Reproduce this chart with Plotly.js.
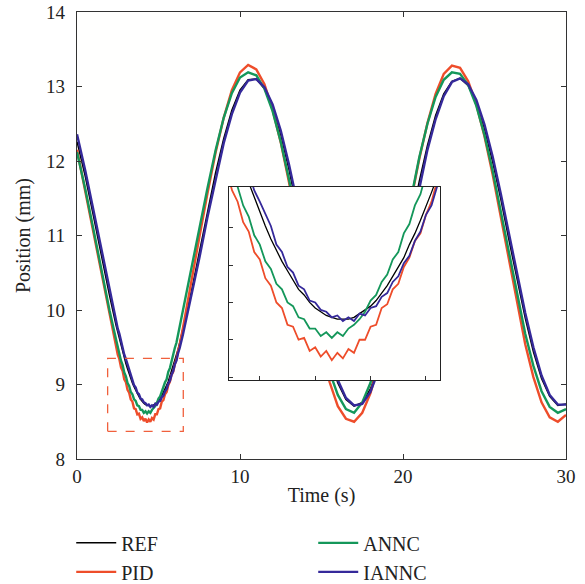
<!DOCTYPE html>
<html>
<head>
<meta charset="utf-8">
<script src="https://cdn.plot.ly/plotly-3.0.1.min.js"></script>
<style>html,body{margin:0;padding:0;background:#fff;}#chart{width:585px;height:584px;}</style>
</head>
<body>
<div id="chart"></div>
<script>
// Time (s)
var time = [0,0.5,1,1.5,2,
  2.4,2.5,2.6,2.7,2.8,2.9,3.0,3.1,3.2,3.3,3.4,3.5,3.6,3.7,3.8,3.9,4.0,4.1,4.2,4.3,
  4.4,4.5,4.6,4.7,4.8,4.9,5.0,5.1,5.2,5.3,5.4,5.5,5.6,5.7,5.8,5.9,6.0,6.1,6.2,6.3,
  6.5,7,7.5,8,8.5,9,9.5,10,10.5,11,11.5,12,12.5,13,13.5,14,14.5,15,15.5,16,16.5,17,
  17.5,18,18.5,19,19.5,20,20.5,21,21.5,22,22.5,23,23.5,24,24.5,25,25.5,26,26.5,27,
  27.5,28,28.5,29,29.5,30];

// Position (mm)
var ref = [12.26,11.80,11.27,10.72,10.19,
  9.79,9.70,9.61,9.52,9.44,9.36,9.28,9.21,9.14,9.08,9.02,8.97,8.92,8.87,8.84,8.80,8.77,8.75,8.73,8.72,
  8.71,8.71,8.71,8.72,8.74,8.76,8.78,8.81,8.85,8.89,8.94,8.99,9.04,9.11,9.17,9.24,9.31,9.39,9.47,9.56,
  9.74,10.23,10.77,11.31,11.84,12.30,12.68,12.95,13.09,13.10,12.97,12.72,12.35,11.89,11.38,10.83,10.29,9.79,9.36,9.02,8.80,8.71,
  8.76,8.94,9.24,9.64,10.13,10.66,11.21,11.73,12.21,12.61,12.90,13.07,13.11,13.01,12.78,12.43,11.99,11.49,10.94,10.40,
  9.89,9.44,9.08,8.84,8.72,8.74];

var pid = [12.15,11.60,11.03,10.46,9.92,
  9.51,9.40,9.34,9.23,9.18,9.07,9.03,8.93,8.89,8.80,8.77,8.68,8.67,8.60,8.61,8.54,8.56,8.51,8.54,8.49,
  8.53,8.50,8.55,8.53,8.60,8.60,8.67,8.68,8.77,8.79,8.87,8.90,8.99,9.04,9.13,9.17,9.27,9.34,9.45,9.53,
  9.76,10.34,10.97,11.56,12.11,12.58,12.95,13.19,13.29,13.23,13.03,12.69,12.25,11.72,11.14,10.54,9.97,9.45,9.03,8.71,8.54,8.50,
  8.62,8.88,9.27,9.75,10.30,10.89,11.48,12.03,12.51,12.90,13.17,13.28,13.25,13.07,12.76,12.33,11.82,11.25,10.65,10.07,
  9.54,9.10,8.76,8.56,8.50,8.59];

var annc = [12.12,11.63,11.09,10.53,9.99,
  9.60,9.49,9.42,9.32,9.26,9.16,9.11,9.02,8.98,8.90,8.87,8.80,8.78,8.72,8.71,8.66,8.66,8.62,8.64,8.61,
  8.64,8.62,8.66,8.68,8.71,8.75,8.81,8.84,8.91,8.95,9.03,9.07,9.17,9.22,9.32,9.38,9.49,9.56,9.67,9.76,
  9.97,10.51,11.08,11.63,12.14,12.58,12.91,13.12,13.19,13.15,12.97,12.67,12.26,11.76,11.21,10.64,10.09,9.59,9.17,8.86,8.67,8.62,
  8.76,9.02,9.39,9.86,10.40,10.96,11.52,12.05,12.50,12.86,13.09,13.19,13.17,13.02,12.74,12.35,11.87,11.32,10.76,10.20,
  9.68,9.25,8.91,8.70,8.62,8.67];

var iannc = [12.36,11.88,11.35,10.81,10.26,
  9.86,9.75,9.68,9.57,9.50,9.40,9.34,9.27,9.21,9.11,9.07,8.99,8.96,8.89,8.87,8.81,8.80,8.76,8.75,8.72,
  8.73,8.70,8.72,8.70,8.74,8.73,8.77,8.78,8.83,8.85,8.91,8.94,9.01,9.05,9.13,9.18,9.27,9.32,9.42,9.49,
  9.67,10.16,10.69,11.24,11.76,12.24,12.63,12.92,13.08,13.10,12.99,12.76,12.41,11.96,11.45,10.91,10.37,9.86,9.41,9.06,8.82,8.72,
  8.74,8.90,9.19,9.58,10.06,10.58,11.13,11.66,12.15,12.56,12.87,13.06,13.11,13.03,12.82,12.49,12.06,11.56,11.02,10.47,
  9.96,9.50,9.12,8.86,8.73,8.73];

var names = ['REF','PID','ANNC','IANNC'];
var series = [ref, pid, annc, iannc];
var colors = ['#000000','#EE4D2A','#14975A','#35299A'];
var ranks = [1,3,2,4];
var xTicks = [0,10,20,30];
var yTicks = [8,9,10,11,12,13,14];
var insetXTicks = [3,4,5,6];
var insetYTicks = [8.4,8.6,8.8,9.0,9.2];

var FONT = 'Liberation Serif, Times New Roman, serif';
var traces = [];
series.forEach(function(s, i){
  traces.push({x: time, y: s, type:'scatter', mode:'lines', name: names[i],
    xaxis:'x', yaxis:'y', legendrank: ranks[i],
    line:{color: colors[i], width: i===0 ? 1.5 : 2.4}});
});
series.forEach(function(s, i){
  traces.push({x: time, y: s, type:'scatter', mode:'lines', name: names[i],
    xaxis:'x2', yaxis:'y2', showlegend:false,
    line:{color: colors[i], width: i===0 ? 1.3 : 1.8}});
});

var axBase = {showgrid:false, zeroline:false, showline:true, linecolor:'#333', linewidth:1.3,
  ticks:'inside', ticklen:5, tickcolor:'#333', tickwidth:1.2,
  tickfont:{family:FONT, size:19, color:'#222'}};

var layout = {
  width:585, height:584,
  margin:{l:77, r:19, t:12, b:125, autoexpand:false},
  paper_bgcolor:'#ffffff', plot_bgcolor:'#fffffe',
  font:{family:FONT, color:'#222'},
  xaxis: Object.assign({}, axBase, {domain:[0,1], range:[0,30], tickvals:xTicks, mirror:'ticks',
    ticklabelstandoff:0, title:{text:'Time (s)', font:{family:FONT, size:20, color:'#222'}, standoff:2}}),
  yaxis: Object.assign({}, axBase, {domain:[0,1], range:[8,14], tickvals:yTicks, mirror:'ticks',
    ticklabelstandoff:7, title:{text:'Position (mm)', font:{family:FONT, size:20, color:'#222'}, standoff:10}}),
  xaxis2: Object.assign({}, axBase, {domain:[0.3115,0.742], range:[2.45,6.25], anchor:'y2',
    tickvals:insetXTicks, showticklabels:false, mirror:true, linecolor:'#222', ticklen:4}),
  yaxis2: Object.assign({}, axBase, {domain:[0.1767,0.609], range:[8.384,9.42], anchor:'x2',
    tickvals:insetYTicks, showticklabels:false, mirror:true, linecolor:'#222', ticklen:4}),
  shapes:[{type:'rect', xref:'x', yref:'y', x0:1.88, x1:6.52, y0:8.37, y1:9.35,
    line:{color:'#F0603C', width:1.3, dash:'dash'}, fillcolor:'rgba(0,0,0,0)'}],
  showlegend:true,
  legend:{orientation:'h', x:-0.0118, xanchor:'left', y:-0.144, yanchor:'top',
    itemwidth:40, entrywidth:187, entrywidthmode:'pixels', traceorder:'normal',
    font:{family:FONT, size:20, color:'#222'}, bgcolor:'rgba(0,0,0,0)'}
};

Plotly.newPlot('chart', traces, layout, {displayModeBar:false, responsive:false});
</script>
</body>
</html>
